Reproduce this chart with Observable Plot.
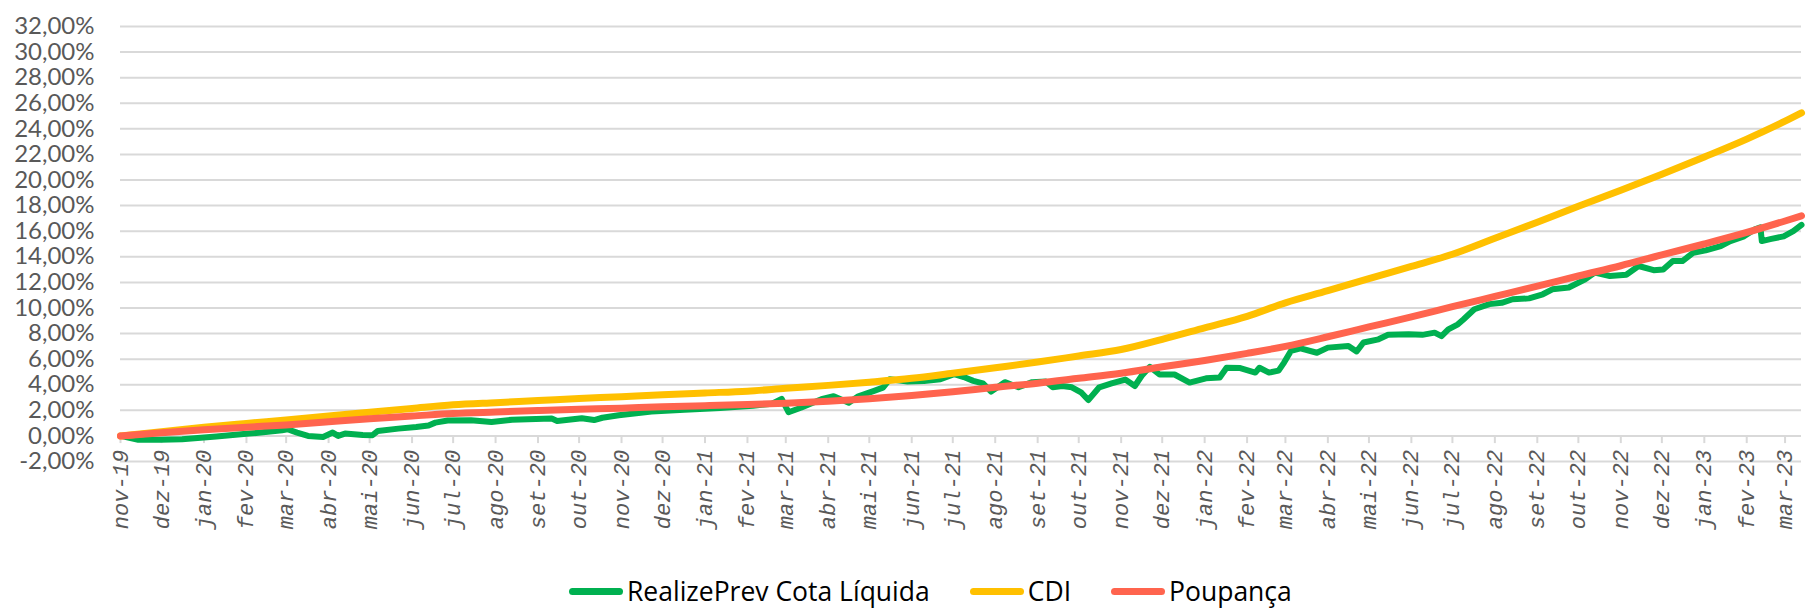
<!DOCTYPE html>
<html><head><meta charset="utf-8">
<script src="https://cdn.jsdelivr.net/npm/d3@7"></script>
<script src="https://cdn.jsdelivr.net/npm/@observablehq/plot@0.6"></script>
<style>
body{margin:0;background:#fff;width:1807px;height:608px;overflow:hidden;position:relative;font-family:Lato,sans-serif}
#chart{position:absolute;left:0;top:0}
#legend{position:absolute;left:569px;top:573px;display:flex;align-items:center;font-size:26.5px;color:#000;white-space:nowrap;font-family:"Open Sans",sans-serif}
.item{display:flex;align-items:center;margin-right:40px}
.sw{width:54px;height:7px;border-radius:3.5px;margin-right:4px}
</style></head><body><div id="chart"></div><div id="legend"></div>
<script>
const seriesNames = ["RealizePrev Cota Líquida", "CDI", "Poupança"];
const seriesColors = ["#00B050", "#FFC000", "#FF644E"];

const yTicks = [-2, 0, 2, 4, 6, 8, 10, 12, 14, 16, 18, 20, 22, 24, 26, 28, 30, 32];

const monthLabels = ["nov-19","dez-19","jan-20","fev-20","mar-20","abr-20","mai-20","jun-20","jul-20","ago-20","set-20","out-20",
  "nov-20","dez-20","jan-21","fev-21","mar-21","abr-21","mai-21","jun-21","jul-21","ago-21","set-21","out-21",
  "nov-21","dez-21","jan-22","fev-22","mar-22","abr-22","mai-22","jun-22","jul-22","ago-22","set-22","out-22",
  "nov-22","dez-22","jan-23","fev-23","mar-23"];

const benchDates = ["2019-11-01","2019-12-01","2020-01-01","2020-02-01","2020-03-01","2020-04-01","2020-05-01","2020-06-01","2020-07-01","2020-08-01","2020-09-01","2020-10-01",
  "2020-11-01","2020-12-01","2021-01-01","2021-02-01","2021-03-01","2021-04-01","2021-05-01","2021-06-01","2021-07-01","2021-08-01","2021-09-01","2021-10-01",
  "2021-11-01","2021-12-01","2022-01-01","2022-02-01","2022-03-01","2022-04-01","2022-05-01","2022-06-01","2022-07-01","2022-08-01","2022-09-01","2022-10-01",
  "2022-11-01","2022-12-01","2023-01-01","2023-02-01","2023-03-01","2023-03-13"];

const cdiValues = [0, 0.33, 0.68, 0.98, 1.25, 1.55, 1.85, 2.15, 2.43, 2.6, 2.76, 2.92,
  3.07, 3.22, 3.36, 3.5, 3.72, 3.95, 4.2, 4.5, 4.9, 5.33, 5.77, 6.25,
  6.75, 7.55, 8.45, 9.35, 10.4, 11.35, 12.3, 13.25, 14.2, 15.45, 16.7, 17.95,
  19.2, 20.45, 21.8, 23.2, 24.6, 25.25];

const poupancaValues = [0, 0.25, 0.48, 0.68, 0.86, 1.1, 1.35, 1.55, 1.75, 1.87, 1.98, 2.08,
  2.17, 2.27, 2.36, 2.45, 2.55, 2.7, 2.9, 3.15, 3.45, 3.8, 4.12, 4.5,
  4.9, 5.4, 5.9, 6.45, 7.0, 7.75, 8.52, 9.3, 10.1, 10.9, 11.7, 12.5,
  13.3, 14.15, 15.0, 15.9, 16.8, 17.2];

const realizeDates = ["2019-11-01","2019-11-14","2019-11-30","2019-12-16","2020-01-10","2020-02-03","2020-02-27","2020-03-02","2020-03-09","2020-03-17",
  "2020-03-28","2020-04-04","2020-04-08","2020-04-13","2020-04-26","2020-05-03","2020-05-07","2020-05-22","2020-06-04","2020-06-13",
  "2020-06-18","2020-06-27","2020-07-14","2020-07-29","2020-08-13","2020-09-11","2020-09-15","2020-10-03","2020-10-12","2020-10-18",
  "2020-10-30","2020-11-23","2020-12-17","2021-01-12","2021-02-05","2021-02-19","2021-02-26","2021-03-03","2021-03-12","2021-03-27",
  "2021-04-05","2021-04-16","2021-04-23","2021-05-04","2021-05-11","2021-05-16","2021-05-29","2021-06-10","2021-06-22","2021-07-02",
  "2021-07-09","2021-07-16","2021-07-23","2021-07-29","2021-08-08","2021-08-18","2021-08-28","2021-09-07","2021-09-12","2021-09-19",
  "2021-09-26","2021-10-03","2021-10-08","2021-10-16","2021-10-25","2021-11-04","2021-11-11","2021-11-16","2021-11-22","2021-11-29",
  "2021-12-10","2021-12-21","2022-01-02","2022-01-12","2022-01-17","2022-01-27","2022-02-07","2022-02-10","2022-02-17","2022-02-24",
  "2022-02-28","2022-03-05","2022-03-12","2022-03-24","2022-04-01","2022-04-16","2022-04-22","2022-04-27","2022-05-08","2022-05-15",
  "2022-05-30","2022-06-09","2022-06-18","2022-06-23","2022-06-28","2022-07-05","2022-07-09","2022-07-17","2022-07-28","2022-08-06",
  "2022-08-14","2022-08-26","2022-09-05","2022-09-12","2022-09-24","2022-10-06","2022-10-13","2022-10-24","2022-11-05","2022-11-14",
  "2022-11-25","2022-12-02","2022-12-09","2022-12-16","2022-12-24","2023-01-02","2023-01-13","2023-01-20","2023-01-30","2023-02-07",
  "2023-02-11","2023-02-12","2023-02-19","2023-02-28","2023-03-07","2023-03-13"];

const realizeValues = [0, -0.3, -0.3, -0.26, -0.05, 0.18, 0.44, 0.52, 0.26, 0.0,
  -0.08, 0.26, 0.0, 0.18, 0.08, 0.05, 0.39, 0.57, 0.7, 0.82,
  1.04, 1.2, 1.22, 1.08, 1.27, 1.36, 1.17, 1.38, 1.24, 1.42,
  1.62, 1.9, 2.05, 2.18, 2.35, 2.52, 2.9, 1.85, 2.2, 2.87,
  3.1, 2.6, 3.1, 3.5, 3.77, 4.43, 4.25, 4.3, 4.43, 4.82,
  4.6, 4.3, 4.1, 3.46, 4.2, 3.8, 4.2, 4.25, 3.8, 3.9,
  3.8, 3.38, 2.8, 3.8, 4.1, 4.4, 3.9, 4.7, 5.4, 4.8,
  4.8, 4.17, 4.5, 4.56, 5.33, 5.3, 4.95, 5.33, 4.95, 5.1,
  5.73, 6.64, 6.85, 6.5, 6.9, 7.03, 6.6, 7.3, 7.55, 7.9,
  7.95, 7.9, 8.07, 7.8, 8.33, 8.72, 9.1, 9.9, 10.3, 10.4,
  10.68, 10.75, 11.07, 11.46, 11.6, 12.24, 12.76, 12.5, 12.6, 13.28,
  12.95, 13.0, 13.67, 13.67, 14.32, 14.5, 14.84, 15.23, 15.6, 16.15,
  16.3, 15.23, 15.4, 15.6, 16.0, 16.5];

const parse = d3.utcParse("%Y-%m-%d");
const realize = realizeDates.map((d, i) => ({date: parse(d), value: realizeValues[i]}));
const cdi = benchDates.map((d, i) => ({date: parse(d), value: cdiValues[i]}));
const poupanca = benchDates.map((d, i) => ({date: parse(d), value: poupancaValues[i]}));
const months = monthLabels.map((label, i) => ({date: parse(benchDates[i]), label}));

const fmt = v => v.toFixed(2).replace(".", ",") + "%";

const chart = Plot.plot({
  width: 1807,
  height: 545,
  marginLeft: 120,
  marginRight: 6,
  marginTop: 26,
  marginBottom: 84,
  style: {background: "#fff", overflow: "visible"},
  x: {type: "utc", domain: [parse("2019-11-01"), parse("2023-03-13")], axis: null},
  y: {domain: [-2, 32], axis: null},
  marks: [
    Plot.ruleY(yTicks, {stroke: "#d9d9d9", strokeWidth: 2}),
    Plot.ruleX(months, {x: "date", y1: 0, y2: -0.6, stroke: "#d9d9d9", strokeWidth: 2}),
    Plot.axisY(yTicks, {label: null, tickSize: 0, tickPadding: 26, tickFormat: fmt, fontSize: 24, fontFamily: "Lato", fill: "#595959"}),
    Plot.text(months, {x: "date", y: 0, text: "label", rotate: -90, textAnchor: "end", dy: 14,
      fontSize: 22, fontFamily: "Liberation Mono", fontStyle: "italic", fill: "#595959"}),
    Plot.line(realize, {x: "date", y: "value", stroke: seriesColors[0], strokeWidth: 6, strokeLinejoin: "round", strokeLinecap: "round"}),
    Plot.line(cdi, {x: "date", y: "value", stroke: seriesColors[1], strokeWidth: 7, curve: "monotone-x", strokeLinecap: "round"}),
    Plot.line(poupanca, {x: "date", y: "value", stroke: seriesColors[2], strokeWidth: 7, curve: "monotone-x", strokeLinecap: "round"})
  ]
});
document.getElementById("chart").append(chart);

const legend = document.getElementById("legend");
seriesNames.forEach((name, i) => {
  const item = document.createElement("div");
  item.className = "item";
  const sw = document.createElement("span");
  sw.className = "sw";
  sw.style.background = seriesColors[i];
  const t = document.createElement("span");
  t.textContent = name;
  item.append(sw, t);
  legend.append(item);
});
</script>
</body></html>
